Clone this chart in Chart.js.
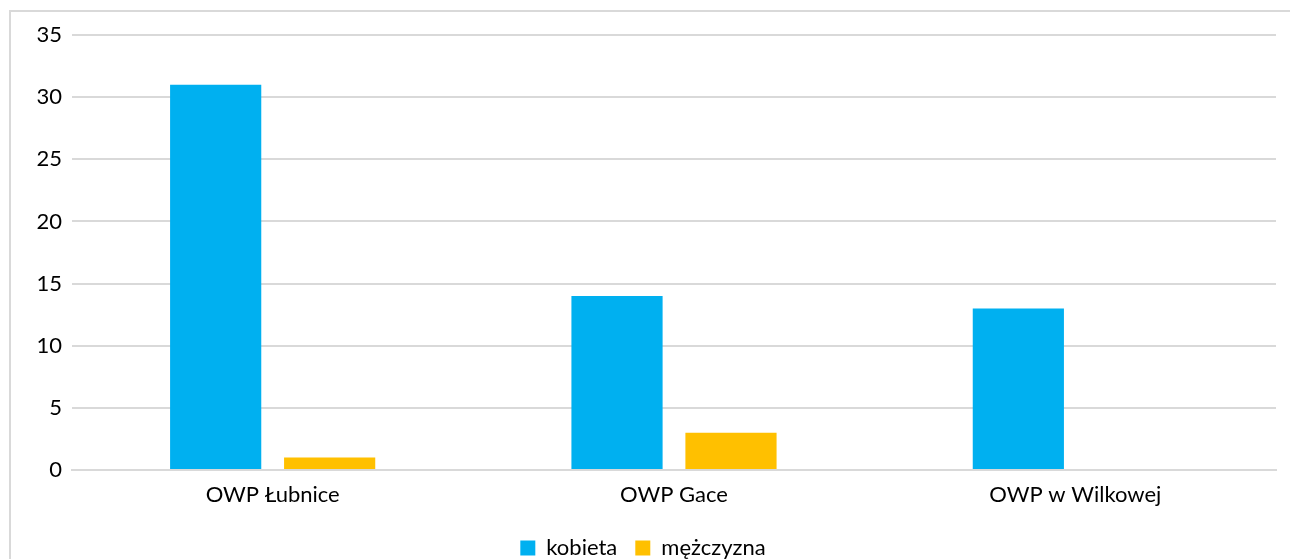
<!DOCTYPE html>
<html>
<head>
<meta charset="utf-8">
<script src="https://cdn.jsdelivr.net/npm/chart.js@4"></script>
<style>
  html, body { margin: 0; padding: 0; background: #fff; overflow: hidden; height: 559px; }
  #frame { position: absolute; left: 9px; top: 10px; width: 1300px; height: 590px; border: 2px solid #d9d9d9; box-sizing: border-box; }
  #wrap { position: absolute; left: 0; top: 0; width: 1290px; height: 569px; }
</style>
</head>
<body>
<div id="frame"></div>
<div id="wrap"><canvas id="chart"></canvas></div>
<script>
// categories and series
var categories = ['OWP Łubnice', 'OWP Gace', 'OWP w Wilkowej'];
var kobieta = [31, 14, 13];
var mezczyzna = [1, 3, 0];
var seriesNames = ['kobieta', 'mężczyzna'];

var ctx = document.getElementById('chart').getContext('2d');
var chart = new Chart(ctx, {
    type: 'bar',
    data: {
        labels: categories,
        datasets: [{
            label: seriesNames[0],
            data: kobieta,
            backgroundColor: '#00B0F0',
            categoryPercentage: 0.568,
            barPercentage: 0.8
        }, {
            label: seriesNames[1],
            data: mezczyzna,
            backgroundColor: '#FFC000',
            categoryPercentage: 0.568,
            barPercentage: 0.8
        }]
    },
    options: {
        responsive: true,
        maintainAspectRatio: false,
        animation: false,
        layout: {
            padding: { left: 10, right: 14, top: 35, bottom: 0 }
        },
        plugins: {
            title: { display: false },
            tooltip: { enabled: false },
            legend: {
                position: 'bottom',
                labels: {
                    color: '#000',
                    font: { family: 'Lato', size: 22 },
                    boxWidth: 15,
                    boxHeight: 15,
                    padding: 18
                }
            }
        },
        scales: {
            x: {
                grid: { display: false, drawTicks: false },
                border: { color: '#d9d9d9', width: 2 },
                ticks: {
                    color: '#000',
                    font: { family: 'Lato', size: 22 },
                    padding: 12
                },
                afterFit: function(axis) { axis.height = 49; }
            },
            y: {
                min: 0,
                max: 35,
                ticks: {
                    stepSize: 5,
                    color: '#000',
                    font: { family: 'Lato', size: 22 },
                    padding: 10
                },
                grid: { color: '#d9d9d9', lineWidth: 2, drawTicks: false },
                border: { display: false },
                afterFit: function(axis) { axis.width = 62; }
            }
        }
    }
});
</script>
</body>
</html>
